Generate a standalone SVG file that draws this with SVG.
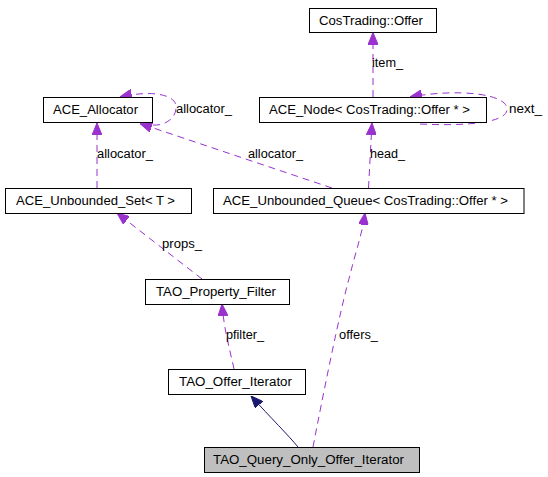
<svg xmlns="http://www.w3.org/2000/svg" width="548" height="477" viewBox="0 0 548 477">
<style>
text{font-family:"Liberation Sans",Arial,sans-serif;font-size:12px;fill:#000}
.box{fill:#fff;stroke:#000;stroke-width:1}
.cur{fill:#bfbfbf;stroke:#000;stroke-width:1}
.dep{fill:none;stroke:#9a32cd;stroke-width:1;stroke-dasharray:7,5;marker-end:url(#ap)}
.inh{fill:none;stroke:#191970;stroke-width:1;marker-end:url(#an)}
</style>
<defs>
<marker id="ap" viewBox="0 0 12 10" refX="12" refY="5" markerWidth="12" markerHeight="10" markerUnits="userSpaceOnUse" orient="auto"><path d="M0,0 L12,5 L0,10 z" style="fill:#9a32cd;stroke:#9a32cd;stroke-width:1;stroke-dasharray:none"/></marker>
<marker id="an" viewBox="0 0 12 10" refX="12" refY="5" markerWidth="12" markerHeight="10" markerUnits="userSpaceOnUse" orient="auto"><path d="M0,0 L12,5 L0,10 z" style="fill:#191970;stroke:#191970;stroke-width:1"/></marker>
</defs>
<rect width="548" height="477" fill="#fff"/>
<g id="edges">
<path class="dep" d="M373,97 L373,32.5"/>
<path class="dep" d="M420,124 C460,126 505,124 507,110 C509,94 460,88 410,97"/>
<path class="dep" d="M153,125 C165,126 177,118 176,106 C175,94 150,90 120,97"/>
<path class="dep" d="M97,188 L97,123"/>
<path class="dep" d="M332,188 L140,123.5"/>
<path class="dep" d="M368.5,188 L372,123"/>
<path class="dep" d="M202,279 L117,213"/>
<path class="dep" d="M234,369 C230,350 224,330 222,304"/>
<path class="dep" d="M313,447 C322,400 340,310 350,275 C356,250 362,235 365,213"/>
<path class="inh" d="M298,447 C290,437 270,417 251,396"/>
<text x="372" y="67" textLength="31" lengthAdjust="spacingAndGlyphs">item_</text>
<text x="509" y="113" textLength="33" lengthAdjust="spacingAndGlyphs">next_</text>
<text x="176" y="113" textLength="56" lengthAdjust="spacingAndGlyphs">allocator_</text>
<text x="97" y="158" textLength="56" lengthAdjust="spacingAndGlyphs">allocator_</text>
<text x="248" y="158" textLength="55" lengthAdjust="spacingAndGlyphs">allocator_</text>
<text x="370" y="158" textLength="35" lengthAdjust="spacingAndGlyphs">head_</text>
<text x="162" y="248" textLength="40" lengthAdjust="spacingAndGlyphs">props_</text>
<text x="226" y="339" textLength="38" lengthAdjust="spacingAndGlyphs">pfilter_</text>
<text x="339" y="339" textLength="39" lengthAdjust="spacingAndGlyphs">offers_</text>
</g>
<g id="node-costrading-offer">
<rect class="box" x="309.5" y="8.5" width="127" height="24"/>
<text x="319" y="24.5" textLength="104" lengthAdjust="spacingAndGlyphs">CosTrading::Offer</text>
</g>
<g id="node-ace-allocator">
<rect class="box" x="43.5" y="97.5" width="109" height="25"/>
<text x="53" y="114" textLength="85" lengthAdjust="spacingAndGlyphs">ACE_Allocator</text>
</g>
<g id="node-ace-node">
<rect class="box" x="259.5" y="97.5" width="227" height="25"/>
<text x="269" y="114" textLength="201" lengthAdjust="spacingAndGlyphs">ACE_Node&lt; CosTrading::Offer * &gt;</text>
</g>
<g id="node-ace-unbounded-set">
<rect class="box" x="5.5" y="188.5" width="186" height="25"/>
<text x="16" y="205" textLength="159" lengthAdjust="spacingAndGlyphs">ACE_Unbounded_Set&lt; T &gt;</text>
</g>
<g id="node-ace-unbounded-queue">
<rect class="box" x="213.5" y="188.5" width="310.5" height="25"/>
<text x="223" y="205" textLength="285" lengthAdjust="spacingAndGlyphs">ACE_Unbounded_Queue&lt; CosTrading::Offer * &gt;</text>
</g>
<g id="node-tao-property-filter">
<rect class="box" x="145.5" y="279.5" width="144" height="25"/>
<text x="156" y="296" textLength="120" lengthAdjust="spacingAndGlyphs">TAO_Property_Filter</text>
</g>
<g id="node-tao-offer-iterator">
<rect class="box" x="168.5" y="369.5" width="137" height="25"/>
<text x="179" y="386" textLength="113" lengthAdjust="spacingAndGlyphs">TAO_Offer_Iterator</text>
</g>
<g id="node-tao-query-only-offer-iterator">
<rect class="cur" x="204.5" y="447.5" width="215" height="25"/>
<text x="213" y="464" textLength="191" lengthAdjust="spacingAndGlyphs">TAO_Query_Only_Offer_Iterator</text>
</g>
</svg>
